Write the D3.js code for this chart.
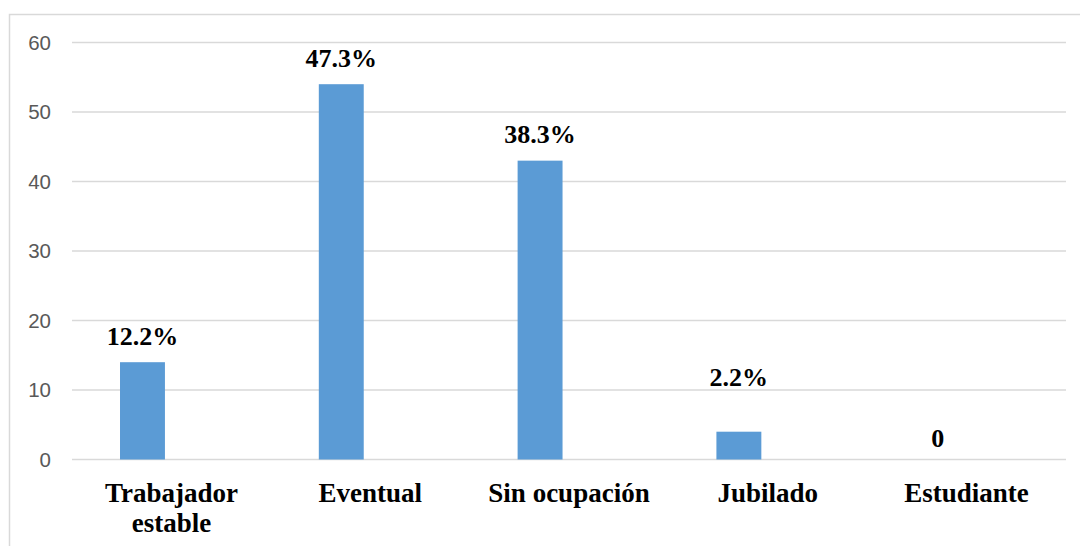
<!DOCTYPE html>
<html>
<head>
<meta charset="utf-8">
<script src="https://cdn.jsdelivr.net/npm/d3@7"></script>
<style>
  html, body { margin: 0; padding: 0; background: #fff; }
  svg { display: block; }
</style>
</head>
<body>
<svg id="chart" width="1080" height="546"></svg>
<script>
// Ocupación: number of people per category, with the percentage shown above each bar
const categories = ["Trabajador estable", "Eventual", "Sin ocupación", "Jubilado", "Estudiante"];
const counts = [14, 54, 43, 4, 0];
const percentLabels = ["12.2%", "47.3%", "38.3%", "2.2%", "0"];
const yTicks = [0, 10, 20, 30, 40, 50, 60];

const svg = d3.select("#chart");

// chart frame
svg.append("rect")
  .attr("x", 9.5).attr("y", 14.5)
  .attr("width", 1200).attr("height", 700)
  .attr("fill", "none").attr("stroke", "#d9d9d9").attr("stroke-width", 1.5);

const plot = { left: 72, right: 1066, top: 42.5, bottom: 459.5 };

const x = d3.scaleBand().domain(categories).range([plot.left, plot.right]).padding(0);
const y = d3.scaleLinear().domain([0, 60]).range([plot.bottom, plot.top]);

// horizontal gridlines
svg.append("g")
  .selectAll("line")
  .data(yTicks)
  .join("line")
  .attr("x1", plot.left).attr("x2", plot.right)
  .attr("y1", d => y(d)).attr("y2", d => y(d))
  .attr("stroke", "#d9d9d9").attr("stroke-width", 1.5);

// y axis tick labels
const yAxis = d3.axisLeft(y).tickValues(yTicks).tickSize(0).tickPadding(21);
const yG = svg.append("g").attr("transform", `translate(${plot.left},0)`).call(yAxis);
yG.select(".domain").remove();
yG.selectAll("text")
  .attr("fill", "#595959")
  .style("font-family", "'Liberation Sans', Arial, sans-serif")
  .style("font-size", "20.5px");

// bars sit in the left part of each category slot
const bw = x.bandwidth();
const barOffset = bw * 0.2415;
const barWidth = bw * 0.226;

svg.append("g")
  .selectAll("rect")
  .data(categories)
  .join("rect")
  .attr("x", d => x(d) + barOffset)
  .attr("width", barWidth)
  .attr("y", (d, i) => y(counts[i]))
  .attr("height", (d, i) => y(0) - y(counts[i]))
  .attr("fill", "#5b9bd5");

// percentage labels above the bars
const labelLift = { "Jubilado": 46, "Estudiante": 13 };
svg.append("g")
  .selectAll("text")
  .data(categories)
  .join("text")
  .attr("x", d => x(d) + barOffset + barWidth / 2)
  .attr("y", (d, i) => y(counts[i]) - (labelLift[d] ?? 17.7))
  .attr("text-anchor", "middle")
  .attr("fill", "#000")
  .style("font-family", "'Liberation Serif', 'Times New Roman', serif")
  .style("font-weight", "bold")
  .style("font-size", "26px")
  .text((d, i) => percentLabels[i]);

// category labels, wrapped onto two lines where needed
const catLines = { "Trabajador estable": ["Trabajador", "estable"] };
const xLabels = svg.append("g")
  .selectAll("text")
  .data(categories)
  .join("text")
  .attr("x", d => x(d) + bw / 2)
  .attr("y", 502)
  .attr("text-anchor", "middle")
  .attr("fill", "#000")
  .style("font-family", "'Liberation Serif', 'Times New Roman', serif")
  .style("font-weight", "bold")
  .style("font-size", "27px");

xLabels.each(function(d) {
  const lines = catLines[d] || [d];
  d3.select(this).selectAll("tspan")
    .data(lines)
    .join("tspan")
    .attr("x", x(d) + bw / 2)
    .attr("dy", (l, i) => i === 0 ? 0 : 30)
    .text(l => l);
});
</script>
</body>
</html>
